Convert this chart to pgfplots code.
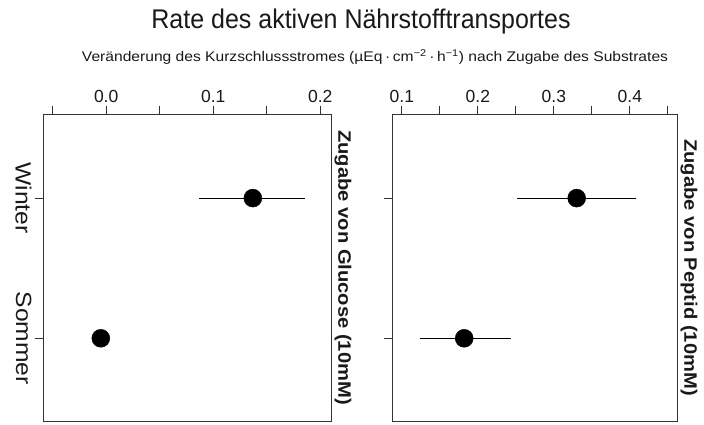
\documentclass[border=0pt]{standalone}
\usepackage{pgfplots}
\pgfplotsset{compat=1.18}
\usepackage{pgfplotstable}
\usepackage{fontspec}
\setmainfont{Liberation Sans}
\usepackage{graphicx}

\pgfplotstableread{
y x ep em
1 0.137 0.049 0.050
0 -0.005 0 0
}\glucose
\pgfplotstableread{
y x ep em
1 0.330 0.078 0.079
0 0.182 0.062 0.058
}\peptid

\pgfplotsset{panel/.style={
  scale only axis, height=307pt,
  ymin=-0.59, ymax=1.6,
  ytick={0,1},
  axis line style={draw=black!80, line width=0.9pt},
  tick style={draw=black!80, line width=0.9pt},
  tick align=outside,
  major tick length=8pt, minor tick length=8pt,
  xtick pos=right, xticklabel pos=right,
  ytick pos=left,
  xticklabel style={font=\fontsize{17.5}{17.5}\selectfont, text=black!90},
  yticklabel style={rotate=-90, anchor=north, font=\fontsize{22}{22}\selectfont, text=black!90},
  clip=false,
}}

\begin{document}
\begin{tikzpicture}
\path[use as bounding box] (0,0) rectangle (704pt,424pt);
\begin{axis}[panel, at={(43pt,3pt)}, anchor=south west, width=288pt,
  xmin=-0.059, xmax=0.210,
  xtick={0,0.1,0.2}, xticklabels={0.0,0.1,0.2},
  minor xtick={-0.05,0.05,0.15},
  yticklabels={\scalebox{1.12}[1]{Sommer},\scalebox{1.12}[1]{Winter}},
]
\addplot[only marks, mark=*, mark size=9pt, black,
  error bars/.cd, x dir=both, x explicit, error mark=none,
  error bar style={black, line width=0.9pt}]
  table[x=x, y=y, x error plus=ep, x error minus=em] {\glucose};
\node[rotate=-90, anchor=south, font=\bfseries\fontsize{18}{18}\selectfont, text=black!90]
  at (rel axis cs:1,0.5) {\scalebox{1.12}[1]{Zugabe von Glucose (10mM)}};
\end{axis}
\begin{axis}[panel, at={(392pt,3pt)}, anchor=south west, width=285pt,
  xmin=0.087, xmax=0.462,
  xtick={0.1,0.2,0.3,0.4}, xticklabels={0.1,0.2,0.3,0.4},
  minor xtick={0.15,0.25,0.35,0.45},
  yticklabels={},
]
\addplot[only marks, mark=*, mark size=9pt, black,
  error bars/.cd, x dir=both, x explicit, error mark=none,
  error bar style={black, line width=0.9pt}]
  table[x=x, y=y, x error plus=ep, x error minus=em] {\peptid};
\node[rotate=-90, anchor=south, font=\bfseries\fontsize{18}{18}\selectfont, text=black!90]
  at (rel axis cs:1,0.5) {\scalebox{1.12}[1]{Zugabe von Peptid (10mM)}};
\end{axis}
\node[text=black!90] at (361pt,402pt) {\scalebox{1}[1.08]{\fontsize{25}{25}\selectfont Rate des aktiven Nährstofftransportes}};
\node[text=black!90] at (375pt,367pt) {\resizebox{586pt}{\height}{\fontsize{14}{14}\selectfont Veränderung des Kurzschlussstromes (µEq\,·\,cm\textsuperscript{−2}\,·\,h\textsuperscript{−1}) nach Zugabe des Substrates}};
\end{tikzpicture}
\end{document}
